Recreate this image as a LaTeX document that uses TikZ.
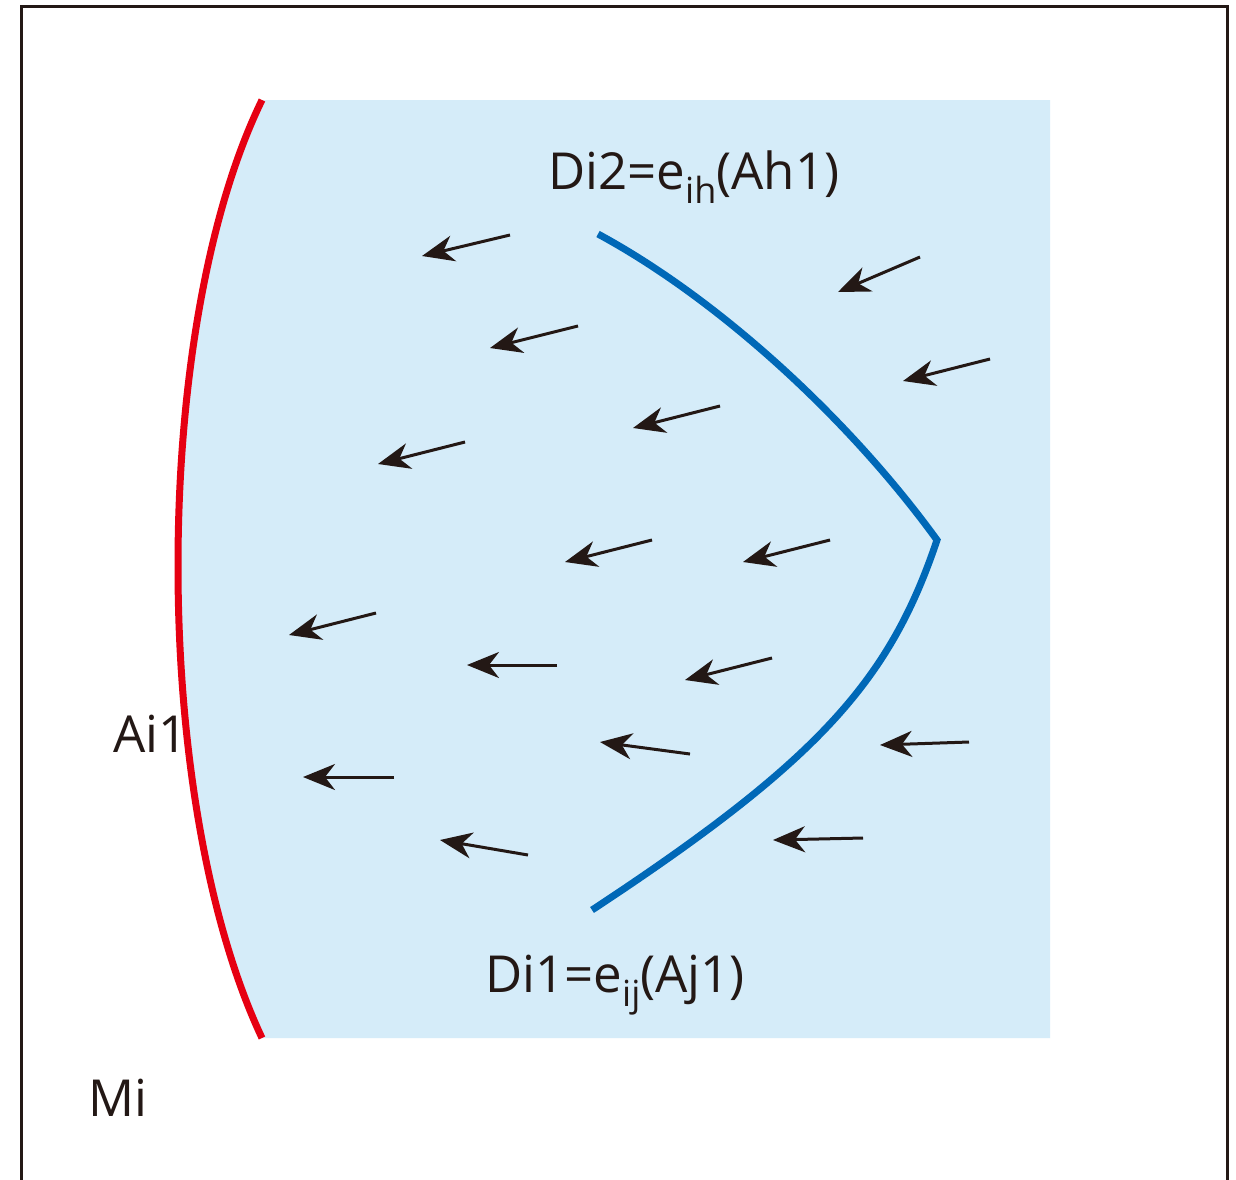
\documentclass[tikz,border=0pt]{standalone}
\usepackage{fontspec}
\setmainfont{Open Sans}
\usetikzlibrary{arrows.meta}
\definecolor{frame}{HTML}{231815}
\definecolor{fieldblue}{HTML}{D5ECF9}
\definecolor{redline}{HTML}{E60012}
\definecolor{blueline}{HTML}{0068B7}
\newcommand{\lowidx}[1]{\raisebox{-0.28em}{\fontsize{36}{36}\selectfont #1}}
\tikzset{
  fieldarrow/.style={line width=3pt, draw=frame, -{Stealth[length=32pt,width=26pt,inset=10pt]}},
  lbl/.style={anchor=base west, inner sep=0pt, text=frame, font=\fontsize{51}{51}\selectfont},
}
\begin{document}
\begin{tikzpicture}[x=1pt,y=-1pt]
\useasboundingbox (0,0) rectangle (1236,1179);
\fill[white] (0,0) rectangle (1236,1179);
% outer frame (bottom edge lies outside the picture)
\draw[frame, line width=3pt] (21,1190) -- (21,6) -- (1227,6) -- (1227,1190);
% light blue field
\fill[fieldblue] (262,100) -- (1050,100) -- (1050,1038) -- (262,1038)
  .. controls (150,800) and (150,330) .. (262,100) -- cycle;
% red boundary Ai1
\draw[redline, line width=7pt] (262,100) .. controls (150,330) and (150,800) .. (262,1038);
% blue boundary
\draw[blueline, line width=7pt] (598,234) .. controls (720,300) and (850,420) .. (937,540)
  .. controls (890,680) and (820,760) .. (592,910);
% arrows
\foreach \ax/\ay/\bx/\by in {
  510/235/422/256, 578/326/490/348, 465/442/378/464, 720/406/633/428,
  652/540/565/562, 830/540/743/562, 920/257/838/292, 990/359/903/381,
  376/613/289/635, 557/665/467/665, 772/658/685/680, 690/754/600/742,
  969/742/880/745, 394/777/303/777, 528/855/440/840, 863/838/773/840}
  \draw[fieldarrow] (\ax,\ay) -- (\bx,\by);
% labels
\node[lbl] (d2) at (548,189) {Di2=e\lowidx{ih}(Ah1)};
\node[lbl] (d1) at (485,992) {Di1=e\lowidx{ij}(Aj1)};
\node[lbl] (a1) at (113,752) {Ai1};
\node[lbl] (mi) at (88,1116) {Mi};
\end{tikzpicture}
\end{document}
